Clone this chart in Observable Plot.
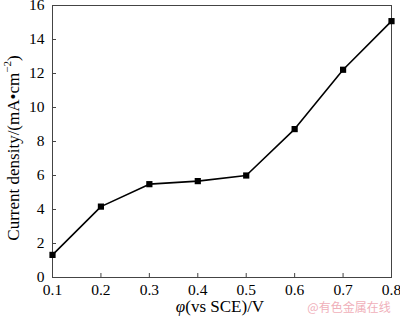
<!DOCTYPE html>
<html><head><meta charset="utf-8">
<script src="https://cdn.jsdelivr.net/npm/d3@7"></script>
<script src="https://cdn.jsdelivr.net/npm/@observablehq/plot@0.6"></script>
<style>
body{margin:0;background:#fff}
#chart{width:400px;height:319px}
</style>
</head><body><div id="chart"></div>
<script>
const potentials = [0.1, 0.2, 0.3, 0.4, 0.5, 0.6, 0.7, 0.8];
const currentDensity = [1.33, 4.17, 5.49, 5.67, 6.0, 8.73, 12.22, 15.08];
const xTicks = [0.1, 0.2, 0.3, 0.4, 0.5, 0.6, 0.7, 0.8];
const yTicks = [0, 2, 4, 6, 8, 10, 12, 14, 16];
const xLabelItalic = "φ";
const xLabelRest = "(vs SCE)/V";
const yLabelMain = "Current density/(mA•cm";
const yLabelSup = "−2";
const yLabelEnd = ")";
const watermark = "@有色金属在线";

const data = potentials.map((p, i) => ({p, j: currentDensity[i]}));
const serif = "'Liberation Serif', 'Times New Roman', serif";

const chart = Plot.plot({
  width: 400, height: 319,
  marginLeft: 52, marginRight: 9, marginTop: 5, marginBottom: 42,
  x: {domain: [0.1, 0.8]},
  y: {domain: [0, 16]},
  style: {background: "#fff", color: "#000"},
  marks: [
    Plot.frame({stroke: "#444", strokeWidth: 1}),
    Plot.axisX(xTicks, {tickSize: -4, tickPadding: 10, tickFormat: d => d.toFixed(1), label: null, stroke: "#444",
      fontFamily: serif, fontSize: 15.5, fill: "#000"}),
    Plot.axisY(yTicks, {tickSize: -4, tickPadding: 12, tickFormat: d => String(d), label: null, stroke: "#444",
      fontFamily: serif, fontSize: 15.5, fill: "#000"}),
    Plot.line(data, {x: "p", y: "j", stroke: "#000", strokeWidth: 1.6}),
    Plot.dot(data, {x: "p", y: "j", symbol: "square", r: 3.5, fill: "#000", stroke: "none"})
  ]
});
document.getElementById("chart").append(chart);

const svg = d3.select(chart);
const yl = svg.append("text")
  .attr("transform", "translate(13,148) rotate(-90)")
  .attr("text-anchor", "middle")
  .attr("dominant-baseline", "central")
  .style("font-family", serif)
  .style("font-size", "17px")
  .attr("fill", "#000");
yl.append("tspan").text(yLabelMain);
yl.append("tspan").attr("dy", -6).style("font-size", "11px").text(yLabelSup);
yl.append("tspan").attr("dy", 6).text(yLabelEnd);

const xl = svg.append("text")
  .attr("x", 220).attr("y", 312)
  .attr("text-anchor", "middle")
  .style("font-family", serif)
  .style("font-size", "17px")
  .attr("fill", "#000");
xl.append("tspan").style("font-style", "italic").text(xLabelItalic);
xl.append("tspan").text(xLabelRest);

svg.append("text")
  .attr("x", 349).attr("y", 312)
  .attr("text-anchor", "middle")
  .style("font-family", "'Noto Sans CJK SC', sans-serif")
  .style("font-size", "12px")
  .attr("fill", "#f0b0ba")
  .text(watermark);
</script></body></html>
